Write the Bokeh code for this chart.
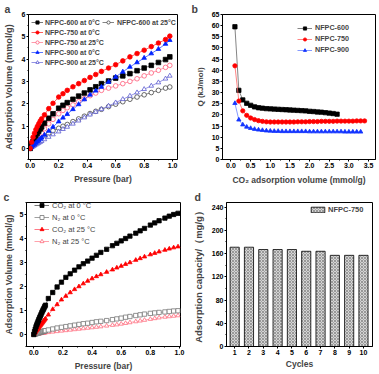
from bokeh.plotting import figure
from bokeh.layouts import column, row
from bokeh.models import (Range1d, SingleIntervalTicker, FixedTicker, PrintfTickFormatter,
                          Legend, LegendItem)
from bokeh.embed import file_html
from bokeh.resources import INLINE

FONT = "Liberation Sans"

# ---------------- panel a data ----------------
pressure_a = [0, .01, .02, .03, .04, .05, .06, .07, .08, .1, .13, .16, .2, .23, .26, .3, .34, .38,
              .42, .46, .5, .55, .6, .65, .7, .75, .8, .85, .9, .95, .98]
nfpc600_0 = [0, .17, .31, .44, .56, .67, .77, .87, .96, 1.13, 1.35, 1.55, 1.8, 1.93, 2.05, 2.2, 2.34,
             2.48, 2.62, 2.76, 2.9, 3.02, 3.15, 3.25, 3.35, 3.48, 3.6, 3.72, 3.85, 3.98, 4.1]
nfpc600_25 = [0, .07, .13, .19, .25, .3, .35, .4, .45, .55, .68, .79, .9, .99, 1.07, 1.2, 1.32, 1.44,
              1.56, 1.66, 1.75, 1.87, 1.98, 2.09, 2.2, 2.3, 2.4, 2.5, 2.6, 2.7, 2.75]
nfpc750_0 = [0, .28, .5, .68, .84, .98, 1.1, 1.22, 1.32, 1.5, 1.78, 2.02, 2.3, 2.45, 2.6, 2.76, 2.9,
             3.04, 3.18, 3.31, 3.45, 3.6, 3.75, 3.92, 4.1, 4.25, 4.4, 4.56, 4.72, 4.88, 5.03]
nfpc750_25 = [0, .1, .19, .28, .37, .46, .54, .62, .7, .88, 1.1, 1.3, 1.55, 1.7, 1.82, 1.95, 2.09,
              2.23, 2.36, 2.48, 2.6, 2.7, 2.8, 2.9, 3.0, 3.12, 3.25, 3.38, 3.5, 3.63, 3.72]
nfpc900_0 = [0, .06, .12, .18, .24, .3, .36, .42, .48, .6, .78, .96, 1.2, 1.37, 1.53, 1.75, 1.97,
             2.19, 2.4, 2.58, 2.75, 2.98, 3.2, 3.43, 3.65, 3.85, 4.05, 4.25, 4.45, 4.68, 4.85]
nfpc900_25 = [0, .04, .08, .12, .16, .2, .24, .28, .32, .4, .51, .62, .75, .86, .96, 1.1, 1.24, 1.38,
              1.51, 1.63, 1.75, 1.9, 2.05, 2.2, 2.35, 2.5, 2.65, 2.8, 2.95, 3.12, 3.25]

# ---------------- panel b data ----------------
vol_600 = [0.1, 0.2, 0.3, 0.4, 0.5, 0.6, 0.7, 0.8, 0.9, 1.0, 1.1, 1.2, 1.3, 1.4, 1.5, 1.6, 1.7, 1.8,
           1.9, 2.0, 2.1, 2.2, 2.3, 2.4, 2.5, 2.6, 2.7]
q_600 = [59.5, 31.0, 26.7, 25.2, 24.3, 23.6, 23.2, 23.0, 22.8, 22.7, 22.6, 22.5, 22.4, 22.3, 22.2,
         22.1, 22.0, 21.9, 21.8, 21.6, 21.5, 21.3, 21.2, 21.0, 20.8, 20.6, 20.3]
vol_750 = [0.1, 0.2, 0.3, 0.4, 0.5, 0.6, 0.7, 0.8, 0.9, 1.0, 1.1, 1.2, 1.3, 1.4, 1.5, 1.6, 1.7, 1.8,
           1.9, 2.0, 2.1, 2.2, 2.3, 2.4, 2.5, 2.6, 2.7, 2.8, 2.9, 3.0, 3.1, 3.2, 3.3, 3.4]
q_750 = [42.0, 26.2, 21.8, 19.8, 18.6, 17.9, 17.4, 17.1, 16.9, 16.8, 16.8, 16.8, 16.8, 16.8, 16.8,
         16.8, 16.9, 16.9, 16.9, 17.0, 17.0, 17.0, 17.1, 17.1, 17.1, 17.1, 17.2, 17.2, 17.2, 17.2,
         17.2, 17.3, 17.3, 17.3]
vol_900 = [0.1, 0.2, 0.3, 0.4, 0.5, 0.6, 0.7, 0.8, 0.9, 1.0, 1.1, 1.2, 1.3, 1.4, 1.5, 1.6, 1.7, 1.8,
           1.9, 2.0, 2.1, 2.2, 2.3, 2.4, 2.5, 2.6, 2.7, 2.8, 2.9, 3.0, 3.1, 3.2, 3.3]
q_900 = [25.2, 17.8, 15.6, 14.6, 14.0, 13.6, 13.3, 13.1, 12.9, 12.8, 12.7, 12.7, 12.6, 12.6, 12.6,
         12.6, 12.6, 12.6, 12.6, 12.5, 12.5, 12.5, 12.5, 12.5, 12.5, 12.5, 12.5, 12.5, 12.4, 12.4,
         12.4, 12.4, 12.4]

# ---------------- panel c data ----------------
pressure_c = [0, .005, .01, .015, .02, .025, .03, .035, .04, .045, .05, .055, .06, .065, .07, .075,
              .08, .1, .13, .16, .19, .22, .25, .28, .31, .34, .37, .4, .43, .46, .5, .54, .57, .6,
              .63, .66, .7, .73, .76, .8, .83, .86, .9, .93, .96, .99]
co2_0 = [0, .12, .22, .32, .4, .48, .56, .63, .7, .77, .84, .91, .98, 1.04, 1.1, 1.16, 1.22, 1.5,
         1.75, 1.98, 2.18, 2.38, 2.53, 2.68, 2.82, 2.95, 3.06, 3.18, 3.3, 3.42, 3.55, 3.7, 3.8, 3.9,
         4.0, 4.1, 4.22, 4.32, 4.42, 4.56, 4.65, 4.74, 4.85, 4.93, 5.0, 5.05]
n2_0 = [0, .01, .02, .03, .04, .05, .06, .07, .08, .09, .1, .11, .12, .13, .14, .15, .16, .19, .23,
        .27, .3, .33, .36, .39, .42, .45, .47, .5, .53, .55, .58, .62, .65, .68, .72, .75, .79, .82,
        .85, .88, .9, .92, .94, .96, .98, .99]
co2_25 = [0, .05, .1, .14, .18, .22, .26, .3, .34, .38, .42, .46, .5, .54, .58, .62, .66, .82, 1.05,
          1.25, 1.45, 1.6, 1.75, 1.88, 2.0, 2.12, 2.23, 2.33, 2.42, 2.5, 2.6, 2.7, 2.78, 2.85, 2.93,
          3.0, 3.1, 3.17, 3.24, 3.33, 3.39, 3.45, 3.52, 3.57, 3.62, 3.66]
n2_25 = [0, .005, .01, .015, .02, .025, .03, .035, .04, .045, .05, .055, .06, .065, .07, .075, .08,
         .09, .11, .13, .15, .17, .19, .21, .23, .25, .27, .29, .31, .33, .36, .39, .41, .44, .47, .5,
         .54, .57, .6, .64, .67, .7, .73, .75, .77, .79]

# ---------------- panel d data ----------------
cycles = [1, 2, 3, 4, 5, 6, 7, 8, 9, 10]
capacity = [171, 171, 167, 167, 167, 164, 164, 157, 157, 157]


def mkfig(w, h, bl, br, bt, bb, xr, yr):
    p = figure(width=w, height=h, min_border_left=bl, min_border_right=br,
               min_border_top=bt, min_border_bottom=bb, x_range=Range1d(*xr), y_range=Range1d(*yr),
               output_backend="svg", toolbar_location=None, tools="")
    p.xgrid.visible = False
    p.ygrid.visible = False
    p.outline_line_color = "black"
    p.outline_line_alpha = 1
    p.outline_line_width = 1
    return p


def style_axis(ax, label, standoff, ticker, fmt=None, lsize="8.5px"):
    ax.axis_label = label
    ax.axis_label_text_font = FONT
    ax.axis_label_text_font_style = "bold"
    ax.axis_label_text_font_size = lsize
    ax.axis_label_standoff = standoff
    ax.major_label_text_font = FONT
    ax.major_label_text_font_style = "bold"
    ax.major_label_text_font_size = "7px"
    ax.major_label_text_color = "black"
    ax.major_label_standoff = 1
    ax.major_tick_out = 2
    ax.major_tick_in = 0
    ax.minor_tick_out = 1
    ax.minor_tick_in = 0
    ax.axis_line_color = "black"
    ax.ticker = ticker
    if fmt is not None:
        ax.formatter = fmt


def series(p, x, y, marker, mcolor, fill, lcolor, size=4.6):
    l = p.line(x, y, line_color=lcolor, line_width=0.8)
    s = p.scatter(x, y, marker=marker, size=size, line_color=mcolor, fill_color=fill, line_width=0.8)
    return [l, s]


def legend(items, loc, lh, sp, gw, fs, style="bold", standoff=2, gh=None):
    return Legend(items=items, location=loc, orientation="vertical", padding=0, margin=0,
                  spacing=sp, label_height=lh, glyph_height=gh if gh else lh, glyph_width=gw,
                  label_standoff=standoff, label_text_font=FONT, label_text_font_style=style,
                  label_text_font_size=fs, border_line_alpha=0, background_fill_alpha=0)


def letter(p, t, off):
    p.title.text = t
    p.title.align = "left"
    p.title.offset = off
    p.title.standoff = 0
    p.title.text_font = FONT
    p.title.text_font_size = "10.5px"
    p.title.text_font_style = "bold"


# ================= panel a =================
pa = mkfig(189, 187, 26, 12, 13, 26, (-0.012, 1.034), (-0.5, 6.0))
style_axis(pa.xaxis[0], "Pressure (bar)", 3, SingleIntervalTicker(interval=0.2, num_minor_ticks=2),
           PrintfTickFormatter(format="%.1f"))
style_axis(pa.yaxis[0], "Adsorption Volume (mmol/g)", 5,
           SingleIntervalTicker(interval=1, num_minor_ticks=2), lsize="9.2px")
r600_25 = series(pa, pressure_a, nfpc600_25, "circle", "#444444", "white", "#666666")
r900_25 = series(pa, pressure_a, nfpc900_25, "triangle", "#5a5ad0", "white", "#7777dd")
r750_25 = series(pa, pressure_a, nfpc750_25, "circle", "#ff5a78", "white", "#ff8096")
r600_0 = series(pa, pressure_a, nfpc600_0, "square", "black", "black", "#555555")
r900_0 = series(pa, pressure_a, nfpc900_0, "triangle", "#0022ff", "#0022ff", "#3355ff")
r750_0 = series(pa, pressure_a, nfpc750_0, "circle", "#ff0000", "#ff0000", "#ff3333")
pa.add_layout(legend([LegendItem(label="NFPC-600 at 0°C", renderers=r600_0),
                      LegendItem(label="NFPC-750 at 0°C", renderers=r750_0),
                      LegendItem(label="NFPC-750 at 25°C", renderers=r750_25),
                      LegendItem(label="NFPC-900 at 0°C", renderers=r900_0),
                      LegendItem(label="NFPC-900 at 25°C", renderers=r900_25)],
                     (3, 93), 8, 2, 12, "7px"))
pa.add_layout(legend([LegendItem(label="NFPC-600 at 25°C", renderers=r600_25)],
                     (74, 133), 8, 2, 12, "7px", standoff=3))
letter(pa, "a", -24)

# ================= panel b =================
pb = mkfig(189, 187, 33, 3, 13, 26, (-0.216, 3.677), (0, 65))
style_axis(pb.xaxis[0], "CO₂ adsorption volume (mmol/g)", 4,
           SingleIntervalTicker(interval=0.5, num_minor_ticks=2), PrintfTickFormatter(format="%.1f"))
style_axis(pb.yaxis[0], "Q (kJ/mol)", 4, SingleIntervalTicker(interval=5, num_minor_ticks=0), lsize="8px")
b600 = series(pb, vol_600, q_600, "square", "black", "black", "#666666", 4.3)
b750 = series(pb, vol_750, q_750, "circle", "#ff0000", "#ff0000", "#ff6666", 4.3)
b900 = series(pb, vol_900, q_900, "triangle", "#1133ff", "#1133ff", "#6680ff", 4.3)
pb.add_layout(legend([LegendItem(label="NFPC-600", renderers=b600),
                      LegendItem(label="NFPC-750", renderers=b750),
                      LegendItem(label="NFPC-900", renderers=b900)],
                     (75, 105), 8, 2, 15, "7.2px", standoff=3))
letter(pb, "b", -31)

# ================= panel c =================
pc = mkfig(189, 186, 24, 9, 13, 24, (-0.05, 1.007), (-0.5, 5.5))
style_axis(pc.xaxis[0], "Pressure (bar)", 3, SingleIntervalTicker(interval=0.2, num_minor_ticks=2),
           PrintfTickFormatter(format="%.1f"))
style_axis(pc.yaxis[0], "Adsorption Volume (mmol/g)", 3,
           SingleIntervalTicker(interval=1, num_minor_ticks=2), lsize="8.8px")
c_n2_25 = series(pc, pressure_c, n2_25, "triangle", "#ff6f80", "white", "#ff8a96", 4.3)
c_n2_0 = series(pc, pressure_c, n2_0, "square", "#777777", "white", "#888888", 4.3)
c_co2_25 = series(pc, pressure_c, co2_25, "triangle", "#ff0000", "#ff0000", "#ff5566", 4.3)
c_co2_0 = series(pc, pressure_c, co2_0, "square", "black", "black", "#555555", 4.3)
pc.add_layout(legend([LegendItem(label="CO₂ at 0 °C", renderers=c_co2_0),
                      LegendItem(label="N₂ at 0 °C", renderers=c_n2_0),
                      LegendItem(label="CO₂ at 25 °C", renderers=c_co2_25),
                      LegendItem(label="N₂ at 25 °C", renderers=c_n2_25)],
                     (8, 100), 10, 2, 15, "7.5px", style="normal", standoff=3))
letter(pc, "c", -23)

# ================= panel d =================
pd_ = mkfig(189, 186, 34, 6, 15, 22, (0.43, 10.63), (0, 248))
style_axis(pd_.xaxis[0], "Cycles", 1, FixedTicker(ticks=cycles))
style_axis(pd_.yaxis[0], "Adsorption capacity/（mg/g）", 5,
           SingleIntervalTicker(interval=40, num_minor_ticks=2), lsize="9.5px")
bars = pd_.vbar(x=cycles, top=capacity, width=0.64, bottom=0, fill_color="#d4d4d4",
                hatch_pattern="x", hatch_color="#707070", hatch_scale=3, hatch_weight=0.6,
                line_color="black", line_width=0.8)
pd_.add_layout(legend([LegendItem(label="NFPC-750", renderers=[bars])],
                      (83, 132), 8, 2, 17, "7.5px", standoff=2, gh=7))
letter(pd_, "d", -32)

page = column(row(pa, pb), row(pc, pd_))

open("out.html", "w").write(file_html(page, INLINE))
